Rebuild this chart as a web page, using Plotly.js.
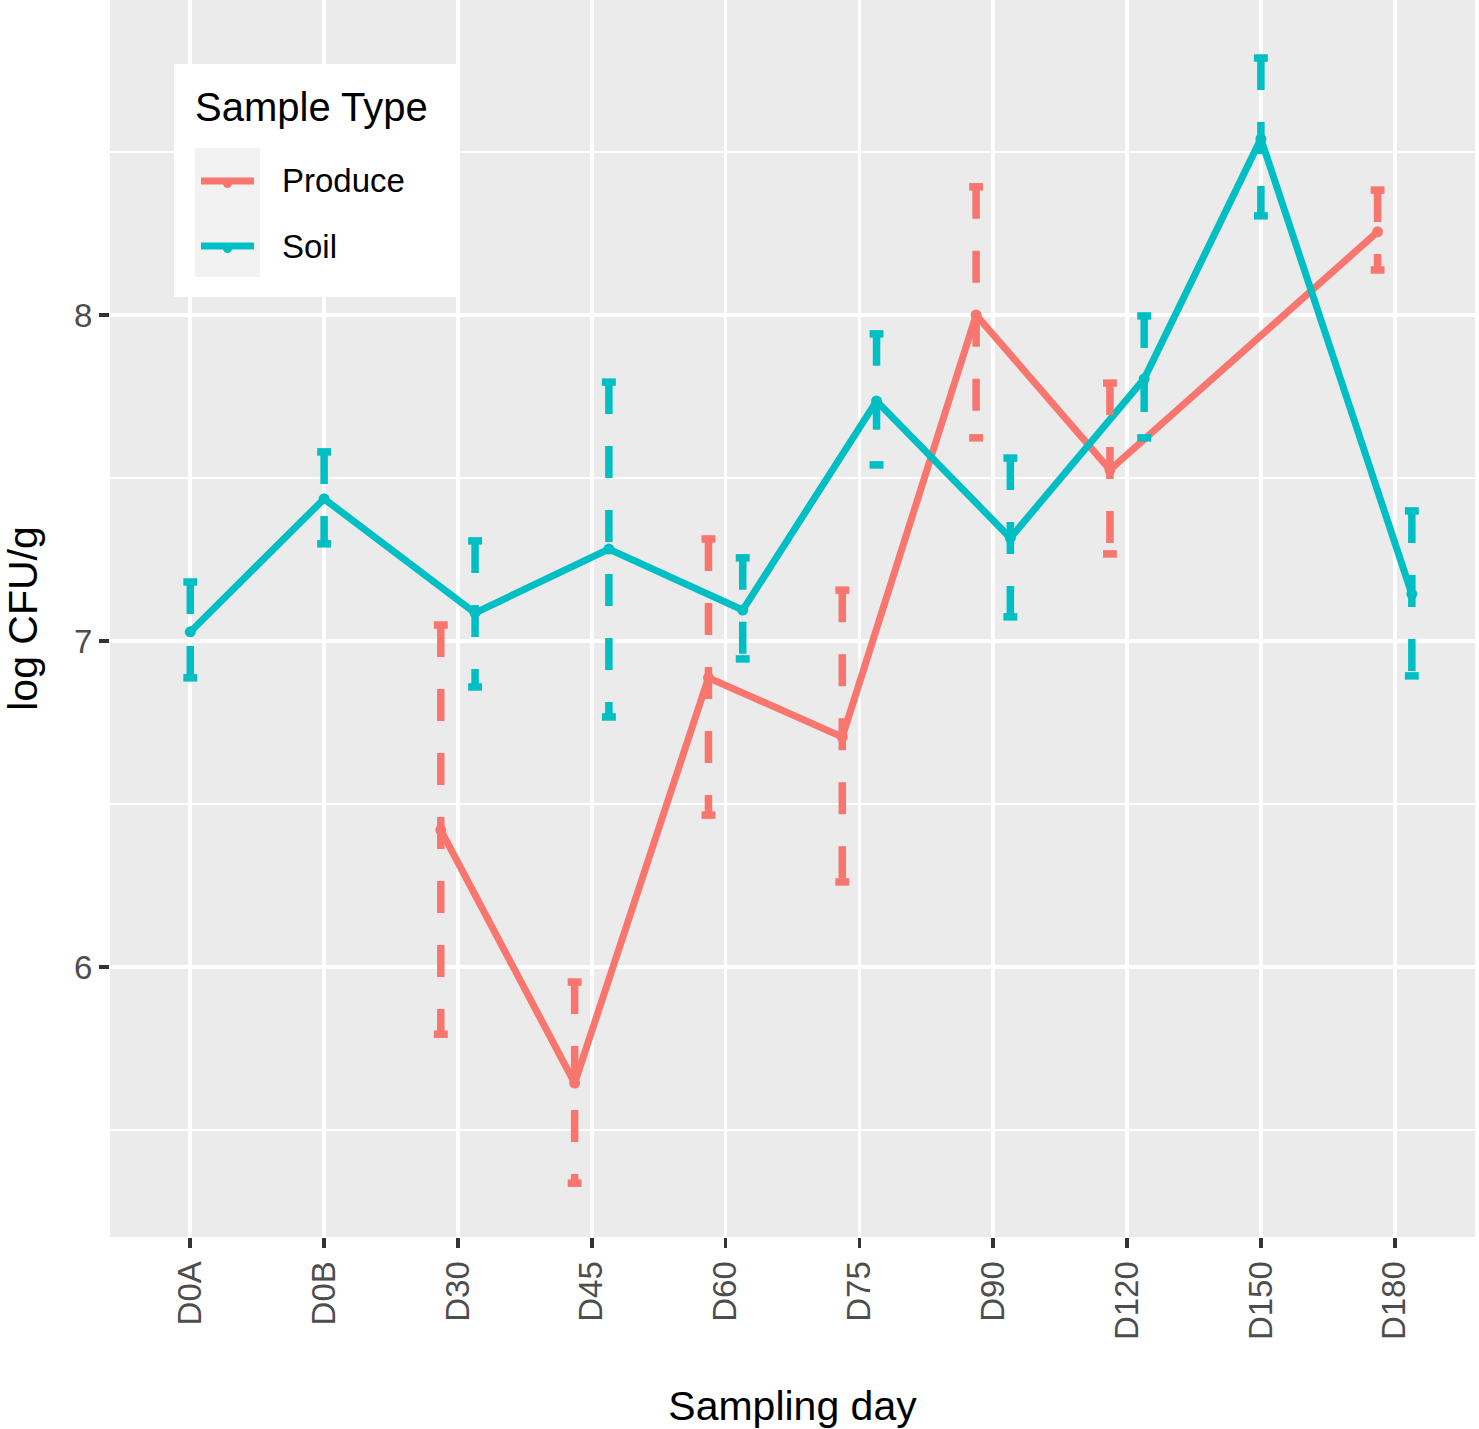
<!DOCTYPE html>
<html><head><meta charset="utf-8">
<script src="https://cdn.plot.ly/plotly-3.0.1.min.js"></script>
<style>html,body{margin:0;padding:0;background:#fff}#chart{width:1479px;height:1429px}</style>
</head><body><div id="chart"></div>
<script>
// ---- data ----
const categories = ['D0A','D0B','D30','D45','D60','D75','D90','D120','D150','D180'];
const produceMean  = [null, null, 6.420, 5.644, 6.887, 6.706, 8.000, 7.525, null, 8.255];
const produceUpper = [null, null, 7.049, 5.954, 7.313, 7.156, 8.393, 7.791, null, 8.383];
const produceLower = [null, null, 5.794, 5.337, 6.466, 6.261, 7.623, 7.267, null, 8.138];
const soilMean  = [7.028, 7.436, 7.086, 7.282, 7.095, 7.736, 7.316, 7.804, 8.540, 7.144];
const soilUpper = [7.181, 7.580, 7.307, 7.794, 7.255, 7.942, 7.561, 7.997, 8.788, 7.399];
const soilLower = [6.887, 7.298, 6.859, 6.767, 6.945, 7.540, 7.074, 7.623, 8.304, 6.893];
const seriesNames = ['Produce', 'Soil'];
const legendTitle = 'Sample Type';

// ---- styling ----
const COLORS = {Produce: '#F8766D', Soil: '#00BFC4'};
const DODGE = 0.128, CAP = 0.052;
const FONT = 'Liberation Sans, Arial, Helvetica, sans-serif';

const series = [
  {name: seriesNames[0], mean: produceMean, up: produceUpper, lo: produceLower, side: -1},
  {name: seriesNames[1], mean: soilMean, up: soilUpper, lo: soilLower, side: 1}
];
function xpos(i, side) {
  const both = produceMean[i] != null && soilMean[i] != null;
  return i + (both ? side * DODGE : 0);
}

const traces = [];
// lines + points
series.forEach(s => {
  const xs = [], ys = [];
  s.mean.forEach((v, i) => { if (v != null) { xs.push(xpos(i, s.side)); ys.push(v); } });
  traces.push({type: 'scatter', mode: 'lines+markers', name: s.name, x: xs, y: ys,
    line: {color: COLORS[s.name], width: 7}, marker: {color: COLORS[s.name], size: 11},
    showlegend: false, hoverinfo: 'x+y'});
});
// dashed error bars (ggplot style: top cap, vertical, bottom cap)
series.forEach(s => {
  const xs = [], ys = [];
  s.mean.forEach((v, i) => {
    if (v == null) return;
    const x = xpos(i, s.side);
    xs.push(x - CAP, x + CAP, null, x, x, null, x - CAP, x + CAP, null);
    ys.push(s.up[i], s.up[i], null, s.up[i], s.lo[i], null, s.lo[i], s.lo[i], null);
  });
  traces.push({type: 'scatter', mode: 'lines', x: xs, y: ys, connectgaps: false,
    line: {color: COLORS[s.name], width: 7.5, dash: '32px,32px'},
    showlegend: false, hoverinfo: 'skip'});
});

// ---- manual ggplot-style legend ----
const PL = 110, PR = 1475, PT = 0, PB = 1237;
const px = x => (x - PL) / (PR - PL);
const py = y => 1 - (y - PT) / (PB - PT);
const shapes = [
  {type: 'rect', xref: 'paper', yref: 'paper', x0: px(174), x1: px(459), y0: py(297), y1: py(64),
   fillcolor: 'white', line: {width: 0}, layer: 'above'},
  {type: 'rect', xref: 'paper', yref: 'paper', x0: px(195), x1: px(260), y0: py(277), y1: py(148),
   fillcolor: '#F2F2F2', line: {width: 0}, layer: 'above'}
];
const annotations = [
  {xref: 'paper', yref: 'paper', x: px(193), y: py(107), xanchor: 'left', yanchor: 'middle',
   text: legendTitle, showarrow: false, font: {size: 40, color: 'black', family: FONT}}
];
series.forEach((s, k) => {
  const cy = 181 + k * 65;
  shapes.push({type: 'line', xref: 'paper', yref: 'paper', x0: px(201), x1: px(254), y0: py(cy), y1: py(cy),
    line: {color: COLORS[s.name], width: 7}, layer: 'above'});
  shapes.push({type: 'circle', xref: 'paper', yref: 'paper', x0: px(223), x1: px(232), y0: py(cy + 7), y1: py(cy - 2),
    fillcolor: COLORS[s.name], line: {width: 0}, layer: 'above'});
  annotations.push({xref: 'paper', yref: 'paper', x: px(280), y: py(cy), xanchor: 'left', yanchor: 'middle',
    text: s.name, showarrow: false, font: {size: 33, color: 'black', family: FONT}});
});

const layout = {
  width: 1479, height: 1429,
  margin: {l: 110, r: 4, t: 0, b: 192, pad: 0},
  paper_bgcolor: 'white', plot_bgcolor: '#EBEBEB',
  font: {family: FONT},
  showlegend: false,
  xaxis: {
    range: [-0.6, 9.6], tickmode: 'array', tickvals: categories.map((c, i) => i), ticktext: categories,
    tickangle: -90, showgrid: true, gridcolor: 'white', gridwidth: 3.8, zeroline: false, showline: false,
    ticks: 'outside', ticklen: 10, tickwidth: 3.8, tickcolor: '#333333',
    tickfont: {size: 33, color: '#4D4D4D', family: FONT},
    title: {text: 'Sampling day', font: {size: 41, color: 'black', family: FONT}, standoff: 52},
    automargin: false, fixedrange: true
  },
  yaxis: {
    range: [5.172, 8.966], tickmode: 'linear', tick0: 0, dtick: 1,
    showgrid: true, gridcolor: 'white', gridwidth: 3.8, zeroline: false, showline: false,
    minor: {tick0: 0, dtick: 0.5, showgrid: true, gridcolor: 'white', gridwidth: 1.9, ticks: ''},
    ticks: 'outside', ticklen: 10, tickwidth: 3.8, tickcolor: '#333333',
    tickfont: {size: 33, color: '#4D4D4D', family: FONT},
    title: {text: 'log CFU/g', font: {size: 41, color: 'black', family: FONT}, standoff: 28},
    automargin: false, fixedrange: true
  },
  shapes: shapes,
  annotations: annotations
};
Plotly.newPlot('chart', traces, layout, {displayModeBar: false, staticPlot: true});
</script>
</body></html>
